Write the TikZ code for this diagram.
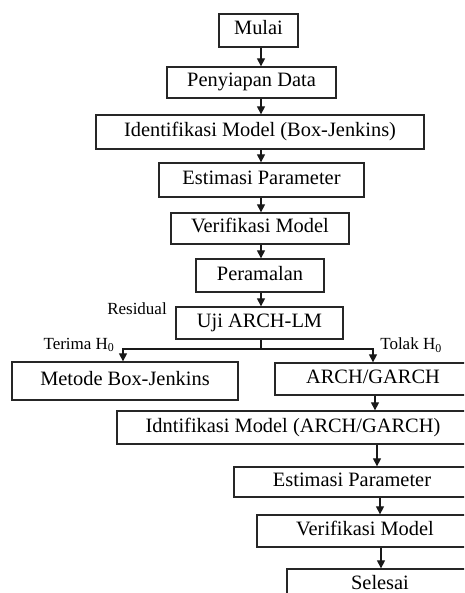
\documentclass[tikz,border=0pt]{standalone}
\usepackage{fontspec}
\setmainfont{Liberation Serif}
\usetikzlibrary{arrows.meta}
\begin{document}
\begin{tikzpicture}[x=1pt,y=-1pt,
  box/.style={draw=black!85,line width=1.3pt,inner sep=0pt,anchor=center,
    font=\fontsize{20.4}{24}\selectfont,text height=13.5pt,text depth=4.5pt},
  lbl/.style={font=\fontsize{17}{20}\selectfont,inner sep=0pt},
  link/.style={draw=black!90,line width=1.2pt},
  arr/.style={link,-{Triangle[length=8pt,width=8pt]}}]
\useasboundingbox (0,0) rectangle (464,593);
\clip (0,0) rectangle (464,593);

% main column
\node[box,minimum width=79pt,minimum height=33pt] (mulai) at (258.5,30.5) {Mulai};
\node[box,minimum width=169pt,minimum height=31pt] (prep) at (251.5,82.5) {Penyiapan Data};
\node[box,minimum width=328pt,minimum height=34pt] (idbj) at (260,132) {Identifikasi Model (Box-Jenkins)};
\node[box,minimum width=205pt,minimum height=34pt] (estbj) at (261.5,180) {Estimasi Parameter};
\node[box,minimum width=178pt,minimum height=31pt] (verbj) at (260,228.5) {Verifikasi Model};
\node[box,minimum width=128pt,minimum height=33pt] (ramal) at (260,275.5) {Peramalan};
\node[box,minimum width=167pt,minimum height=32pt] (uji) at (259.5,323) {Uji ARCH-LM};

% branches
\node[box,minimum width=226pt,minimum height=38pt] (metode) at (125,381) {Metode Box-Jenkins};
\node[box,minimum width=196pt,minimum height=32pt] (arch) at (373,379) {ARCH/GARCH};
\node[box,minimum width=352pt,minimum height=33pt] (idag) at (293,427.5) {Idntifikasi Model (ARCH/GARCH)};
\node[box,minimum width=236pt,minimum height=30pt] (estag) at (352,482) {Estimasi Parameter};
\node[box,minimum width=216pt,minimum height=32pt] (verag) at (365,531) {Verifikasi Model};
\node[box,minimum width=186pt,minimum height=31pt] (selesai) at (380,584.5) {Selesai};

% labels
\node[lbl] (resid) at (137,309) {Residual};
\node[lbl] (terima) at (79,345) {Terima H\textsubscript{0}};
\node[lbl] (tolak) at (411,345) {Tolak H\textsubscript{0}};

% connectors
\coordinate (col) at (261,0);
\draw[arr] (mulai.south -| col) -- (prep.north -| col);
\draw[arr] (prep.south -| col) -- (idbj.north -| col);
\draw[arr] (idbj.south -| col) -- (estbj.north -| col);
\draw[arr] (estbj.south -| col) -- (verbj.north -| col);
\draw[arr] (verbj.south -| col) -- (ramal.north -| col);
\draw[arr] (ramal.south -| col) -- (uji.north -| col);

\coordinate (fork) at (261,349);
\coordinate (tl) at (123,349);
\coordinate (tr) at (373,349);
\draw[link] (uji.south -| col) -- (fork);
\draw[arr] (fork) -- (tl) -- (tl |- metode.north);
\draw[arr] (fork) -- (tr) -- (tr |- arch.north);

\coordinate (c1) at (375,0);
\coordinate (c2) at (377,0);
\coordinate (c3) at (380,0);
\coordinate (c4) at (381,0);
\draw[arr] (arch.south -| c1) -- (idag.north -| c1);
\draw[arr] (idag.south -| c2) -- (estag.north -| c2);
\draw[arr] (estag.south -| c3) -- (verag.north -| c3);
\draw[arr] (verag.south -| c4) -- (selesai.north -| c4);
\end{tikzpicture}
\end{document}
